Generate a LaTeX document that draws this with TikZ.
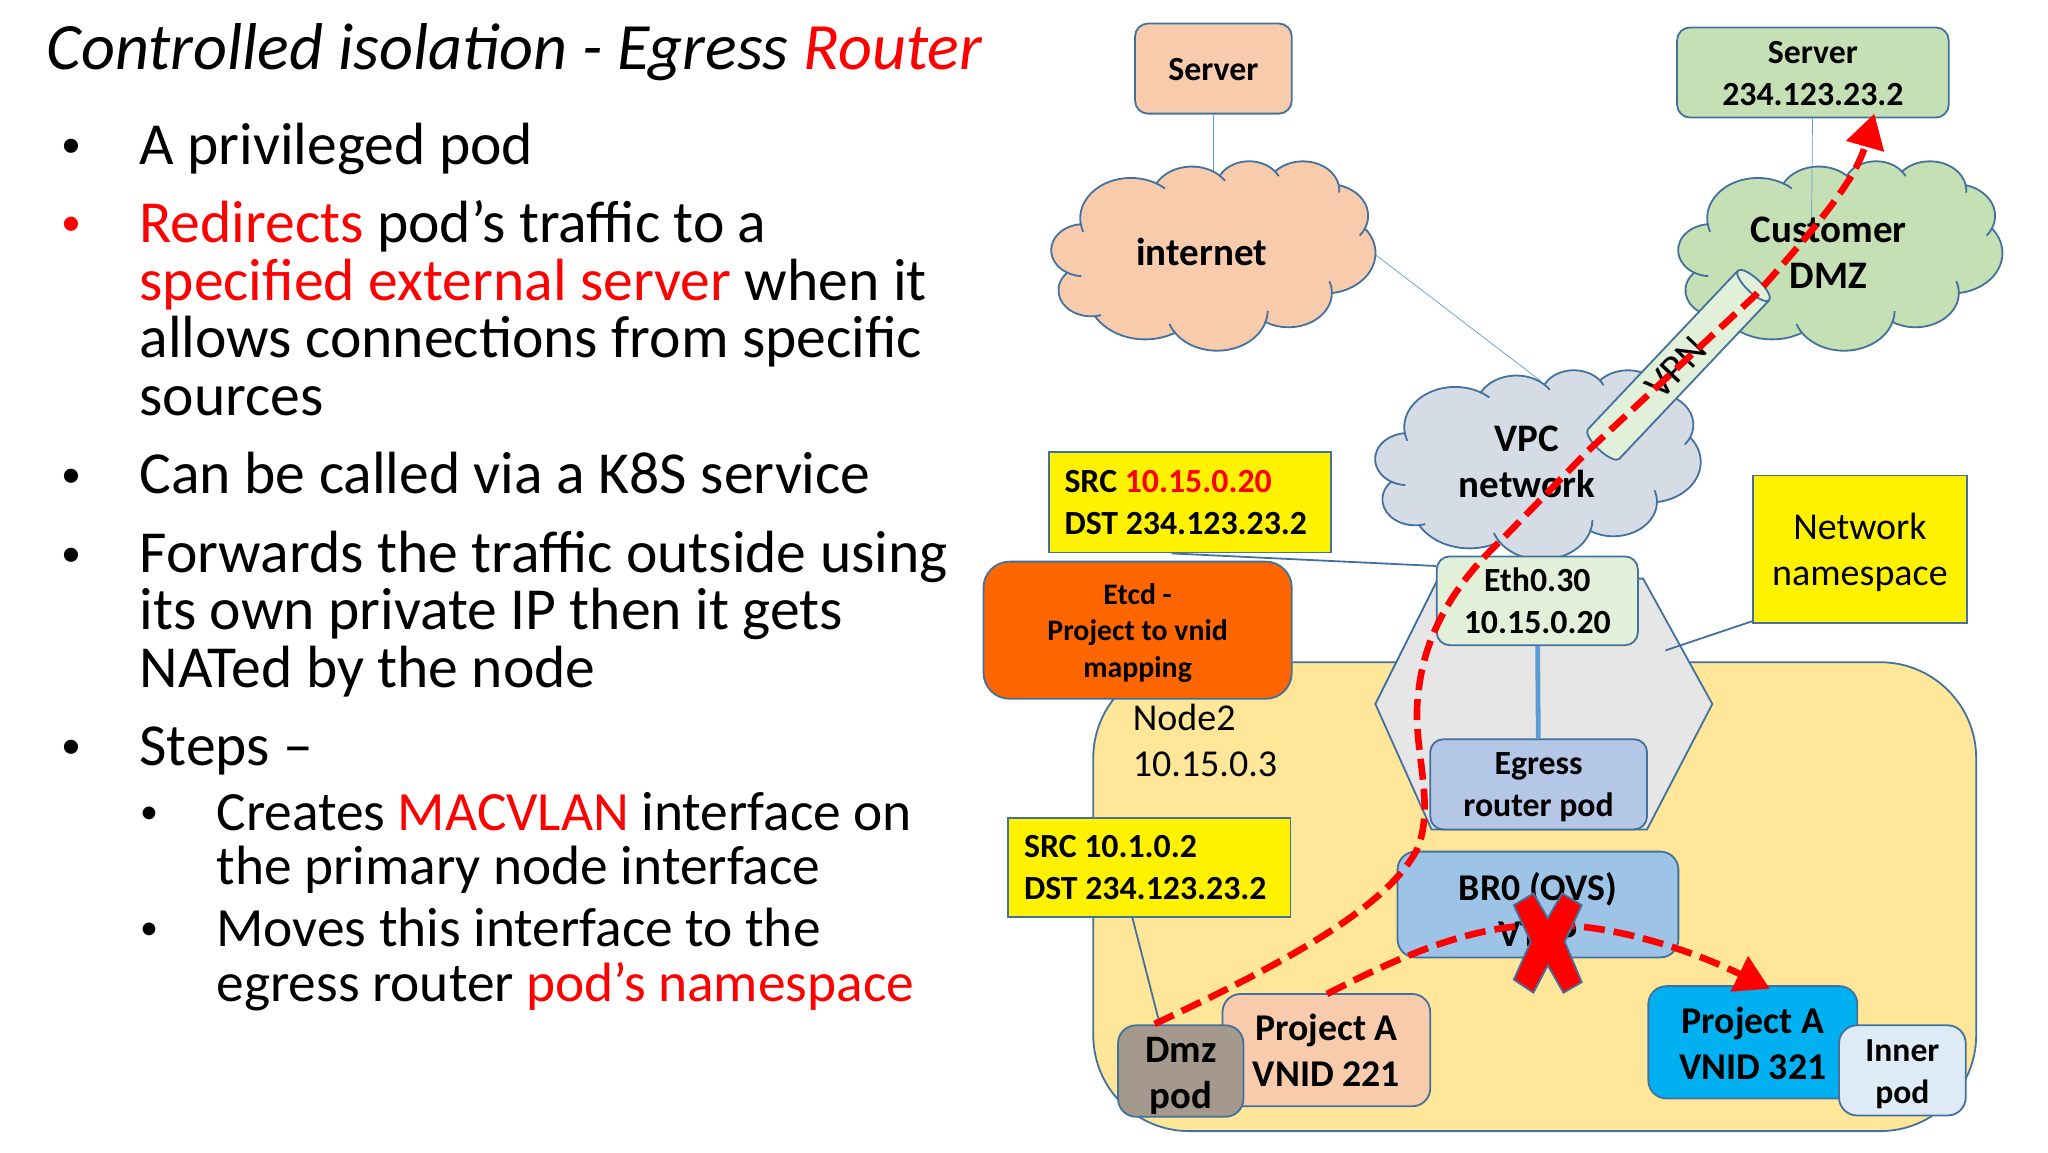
\documentclass[tikz,border=0pt]{standalone}
\usepackage{fontspec}
\setmainfont{Carlito}
\usetikzlibrary{arrows.meta,shapes.geometric}

\def\u{0.65306pt}
\definecolor{edgeblue}{HTML}{41719C}
\definecolor{thinblue}{HTML}{5B9BD5}
\definecolor{salmon}{HTML}{F8CBAD}
\definecolor{softgreen}{HTML}{C5E0B4}
\definecolor{palegreen}{HTML}{E2F0D9}
\definecolor{vpcgrey}{HTML}{D6DCE5}
\definecolor{nodeyellow}{HTML}{FFE699}
\definecolor{hexgrey}{HTML}{E7E6E6}
\definecolor{dmzgrey}{HTML}{A5988C}
\definecolor{etcdorange}{HTML}{FF6600}
\definecolor{egressblue}{HTML}{B4C7E7}
\definecolor{bridgeblue}{HTML}{9DC3E6}
\definecolor{vnidblue}{HTML}{00B0F0}
\definecolor{innerblue}{HTML}{DEEBF7}

\tikzset{
	box/.style={draw=edgeblue, line width=0.9pt, rounded corners=6.5pt, inner sep=0pt, align=center},
	note/.style={draw=edgeblue, line width=0.9pt, fill=yellow, inner sep=0pt},
	lbl/.style={font=\bfseries\fontsize{16.9}{21}\selectfont, align=center, inner sep=0pt},
	bigger/.style={font=\bfseries\fontsize{18.9}{23}\selectfont},
	notelbl/.style={font=\bfseries\fontsize{16.9}{21}\selectfont, align=flush left, text width=192*\u},
	plain/.style={font=\fontsize{19}{23}\selectfont, align=center, inner sep=0pt},
	bodyline/.style={anchor=base west, inner sep=0pt, font=\fontsize{29.8}{32}\selectfont},
	subline/.style={anchor=base west, inner sep=0pt, font=\fontsize{27.7}{30}\selectfont},
	dotmark/.style={anchor=base west, inner sep=0pt, font=\fontsize{20}{22}\selectfont},
	smalldot/.style={anchor=base west, inner sep=0pt, font=\fontsize{18}{20}\selectfont},
	thin link/.style={draw=thinblue, line width=0.35pt},
	link/.style={draw=edgeblue, line width=0.9pt},
	flow/.style={draw=red, line width=3.3pt, dash pattern=on 10.5pt off 4.5pt, -{Triangle[length=17pt,width=19pt]}},
}

% rx/ry/start/sweep/back/forward of each puff, 432 units square
\newcommand{\cloudpuffs}{67.53/91.90/-190.487/123.781/12/12,
	53.33/72.67/-144.102/89.945/0/12,
	43.65/59.45/-145.808/99.723/0/12,
	48.57/65.95/-130.986/117.242/0/15,
	53.33/72.73/-78.709/109.027/0/15,
	67.75/92.20/-46.267/130.269/0/0,
	57.85/78.67/0.625/114.033/20/0,
	67.52/92.15/22.452/115.173/16/14,
	77.20/105.43/66.243/75.711/0/0,
	43.60/59.18/-274.942/146.736/11/0,
	43.45/59.45/-246.829/152.519/26/0}

% left, top, width, height, fill
\newcommand{\drawcloud}[5]{
	\pgfmathsetmacro\ux{#3*0.65306/432}
	\pgfmathsetmacro\uy{#4*0.65306/432}
	\begin{scope}[shift={(#1,#2)}, x=\ux pt, y=-\uy pt]
	\draw[draw=edgeblue, line width=0.9pt, fill=#5] (39,143.7)
		\foreach \rx/\ry/\ang/\swp/\bk/\fw [count=\i] in \cloudpuffs {
			\pgfextra{
				\pgfmathsetmacro\ta{atan2(\rx*sin(\ang),\ry*cos(\ang))}
				\pgfmathsetmacro\tb{atan2(\rx*sin(\ang+\swp),\ry*cos(\ang+\swp))}
				\pgfmathsetmacro\td{mod(\tb-\ta+720,360)}
			}
			coordinate (s\i) arc[start angle=\ta, delta angle=\td, x radius=\rx, y radius=\ry] coordinate (e\i)
		} -- cycle;
	\foreach \rx/\ry/\ang/\swp/\bk/\fw [count=\i] in \cloudpuffs {
		\pgfmathsetmacro\ta{atan2(\rx*sin(\ang),\ry*cos(\ang))}
		\pgfmathsetmacro\tb{atan2(\rx*sin(\ang+\swp),\ry*cos(\ang+\swp))}
		\draw[draw=edgeblue, line width=0.9pt] (s\i) arc[start angle=\ta, delta angle=-\bk, x radius=\rx, y radius=\ry];
		\draw[draw=edgeblue, line width=0.9pt] (e\i) arc[start angle=\tb, delta angle=\fw, x radius=\rx, y radius=\ry];
	}
	\end{scope}
}

\begin{document}
\begin{tikzpicture}[x=\u, y=-\u]
	\useasboundingbox (0,0) rectangle (1568,882);

	% left column
	\node (title) at (35.5,53) [anchor=base west, inner sep=0pt, font=\itshape\fontsize{33.1}{36}\selectfont] {Controlled isolation - Egress {\color{red}Router}};
	\node (b1) at (47,120.5) [dotmark] {•};
	\node (t1) at (106.5,126) [bodyline] {A privileged pod};
	\node (b2) at (47,180.5) [dotmark, text=red] {•};
	\node (t2a) at (106.5,186) [bodyline] {{\color{red}Redirects} pod’s traffic to a};
	\node (t2b) at (106.5,230) [bodyline] {{\color{red}specified external server} when it};
	\node (t2c) at (106.5,274) [bodyline] {allows connections from specific};
	\node (t2d) at (106.5,318) [bodyline] {sources};
	\node (b3) at (47,373.5) [dotmark] {•};
	\node (t3) at (106.5,378) [bodyline] {Can be called via a K8S service};
	\node (b4) at (47,433.5) [dotmark] {•};
	\node (t4a) at (106.5,438) [bodyline] {Forwards the traffic outside using};
	\node (t4b) at (106.5,482) [bodyline] {its own private IP then it gets};
	\node (t4c) at (106.5,526) [bodyline] {NATed by the node};
	\node (b5) at (47,580.5) [dotmark] {•};
	\node (t5) at (106.5,586) [bodyline] {Steps –};
	\node (b6) at (107,630.5) [smalldot] {•};
	\node (t6a) at (165.5,636) [subline] {Creates {\color{red}MACVLAN} interface on};
	\node (t6b) at (165.5,677) [subline] {the primary node interface};
	\node (b7) at (107,719.5) [smalldot] {•};
	\node (t7a) at (165.5,725) [subline] {Moves this interface to the};
	\node (t7b) at (165.5,767) [subline] {egress router {\color{red}pod’s namespace}};

	% top of the diagram
	\node (serverA) at (929,52.5) [box, fill=salmon, minimum width=120*\u, minimum height=69*\u] {};
	\node (serverAtext) at ([yshift=-1*\u]serverA) [lbl] {Server};
	\node (serverB) at (1388,55.5) [box, fill=softgreen, minimum width=208*\u, minimum height=69*\u] {};
	\node (serverBtext) at ([yshift=-1*\u]serverB) [lbl] {Server\\234.123.23.2};
	\coordinate (internetTop) at (929,135);
	\coordinate (internetEdge) at (1053,195);
	\coordinate (vpcTop) at (1180,292);
	\coordinate (dmzInside) at (1387,172);
	\coordinate (serverBin) at (1435,87);
	\draw[thin link] (serverA) -- (internetTop);
	\draw[thin link] (internetEdge) -- (vpcTop);

	\drawcloud{805}{123}{248}{145}{salmon}
	\node (internet) at (920,193) [lbl, font=\bfseries\fontsize{19.5}{23}\selectfont] {internet};
	\drawcloud{1285}{123}{248}{145}{softgreen}
	\draw[thin link] (serverB) -- (dmzInside);
	\node (customer) at (1400,193.5) [lbl, font=\bfseries\fontsize{19.5}{23}\selectfont] {Customer\\DMZ};
	\drawcloud{1053}{283}{249}{145}{vpcgrey}
	\node (vpc) at (1169,353.5) [lbl, font=\bfseries\fontsize{19.5}{23}\selectfont] {VPC\\network};
	\node (vpn) at (1283,281.5) [cylinder, rotate=46.6, draw=edgeblue, line width=0.9pt, minimum width=33*\u, minimum height=178*\u, shape aspect=0.55, inner sep=0pt, cylinder uses custom fill, cylinder body fill=palegreen, cylinder end fill=palegreen, font=\fontsize{20}{24}\selectfont] {VPN};

	% node and its namespace
	\node (node2) at (1175,686.5) [draw=edgeblue, line width=0.9pt, fill=nodeyellow, rounded corners=48pt, minimum width=676*\u, minimum height=359*\u] {};
	\node (nodelabel) at (867,567) [anchor=west, plain, align=left] {Node2\\10.15.0.3};
	\draw[draw=edgeblue, line width=0.9pt, fill=hexgrey] (1053,539) -- (1101,443) -- (1258,443) -- (1311,539) -- (1261,635) -- (1096,635) -- cycle;

	\node (srcA) at (911,384.5) [note, minimum width=216*\u, minimum height=77*\u, notelbl] {SRC {\color{red}10.15.0.20}\\DST 234.123.23.2};
	\node (etcd) at (871,482.5) [box, rounded corners=13pt, fill=etcdorange, minimum width=236*\u, minimum height=105*\u] {};
	\node (etcdtext) at ([yshift=-2*\u]etcd) [lbl, font=\bfseries\fontsize{14.9}{18.2}\selectfont] {Etcd -\\Project to vnid\\mapping};
	\node (eth) at (1177,460) [box, fill=palegreen, minimum width=154*\u, minimum height=68*\u, lbl] {Eth0.30\\10.15.0.20};
	\node (egress) at (1178,600.5) [box, fill=egressblue, minimum width=166*\u, minimum height=69*\u] {};
	\node (egresstext) at ([yshift=-2*\u]egress) [lbl] {Egress\\router pod};
	\draw[thinblue, line width=2.4pt] (eth) -- (egress);
	\draw[link] ([xshift=-14*\u]srcA.south) -- ([yshift=-8*\u]eth.north west);

	\node (netns) at (1424,420.5) [note, minimum width=164*\u, minimum height=113*\u] {};
	\node (netnstext) at ([yshift=-2.5*\u]netns) [plain] {Network\\namespace};
	\coordinate (hexEdge) at (1275,498);
	\draw[link] ([yshift=2*\u]netns.south west) -- (hexEdge);

	% pods and bridge
	\node (br0) at (1177.5,692.5) [box, rounded corners=9pt, fill=bridgeblue, minimum width=215*\u, minimum height=81*\u] {};
	\node (br0text) at ([yshift=-4*\u]br0) [lbl, bigger] {BR0 (OVS)\\VTEP};
	\node (srcB) at (880,664) [note, minimum width=216*\u, minimum height=76*\u, notelbl] {SRC 10.1.0.2\\DST 234.123.23.2};
	\node (projA) at (1015.5,804) [box, rounded corners=9pt, fill=salmon, minimum width=159*\u, minimum height=86*\u, lbl, bigger] {Project A\\VNID 221};
	\node (dmz) at (904,820) [box, rounded corners=9pt, fill=dmzgrey, minimum width=96*\u, minimum height=70*\u] {};
	\node (dmztext) at ([yshift=-4*\u]dmz) [lbl, font=\bfseries\fontsize{19.4}{23}\selectfont] {Dmz\\pod};
	\node (projB) at (1342,798) [box, rounded corners=9pt, fill=vnidblue, minimum width=160*\u, minimum height=86*\u] {};
	\node (projBtext) at ([yshift=-1*\u]projB) [lbl, bigger] {Project A\\VNID 321};
	\node (inner) at (1456.5,819.5) [box, rounded corners=9pt, fill=innerblue, minimum width=97*\u, minimum height=69*\u] {};
	\node (innertext) at ([yshift=-3*\u]inner) [lbl, font=\bfseries\fontsize{16.8}{21}\selectfont] {Inner\\pod};
	\draw[link] ([xshift=-13*\u]srcB.south) -- ([xshift=-16*\u]dmz.north);

	% traffic
	\draw[flow] (884,784) .. controls (960,748) and (1060,700) .. (1085,650) .. controls (1100,615) and (1080,570) .. (1086,530) .. controls (1090,490) and (1110,450) .. (1150,413) -- (1216,345) -- (1344,226) .. controls (1385,180) and (1420,140) .. (serverBin);
	\draw[flow] (1016,761) .. controls (1080,728) and (1130,708) .. (1185,708) .. controls (1240,708) and (1300,730) .. (1355,757);
	\draw[draw=edgeblue, line width=0.9pt, fill=red] (1159,693) -- (1174,684) -- (1185,703) -- (1196,684) -- (1211,693) -- (1198,721) -- (1211,752) -- (1197,760) -- (1185,739) -- (1174,760) -- (1159,750) -- (1172,721) -- cycle;
\end{tikzpicture}
\end{document}
